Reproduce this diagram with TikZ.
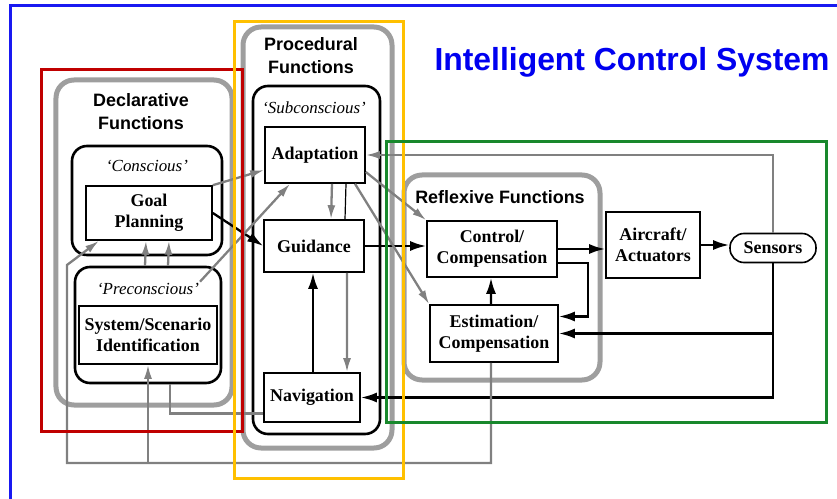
\documentclass[tikz,border=0pt]{standalone}
\usepackage{fontspec}
\setmainfont{Liberation Serif}
\setsansfont{Liberation Sans}
\usetikzlibrary{arrows.meta}

\definecolor{hired}{RGB}{192,0,0}
\definecolor{hiyellow}{RGB}{255,192,0}
\definecolor{higreen}{RGB}{24,136,44}
\definecolor{titleblue}{RGB}{0,0,240}

\tikzset{
  block/.style={draw, line width=1.6bp, fill=white, inner sep=0pt, align=center,
    font=\bfseries\fontsize{18}{21}\selectfont},
  statebox/.style={draw, line width=2.6bp, rounded corners=15bp, inner sep=0pt},
  funcgroup/.style={draw=black!38, line width=5bp, rounded corners=18bp, inner sep=0pt},
  grouptitle/.style={font=\sffamily\bfseries\fontsize{18}{23}\selectfont, align=center},
  statelabel/.style={font=\itshape\fontsize{17}{20}\selectfont},
  flow/.style={-{Latex[length=16bp,width=10bp]}, line width=2.3bp},
  cue/.style={-{Latex[length=14bp,width=8bp]}, line width=2.3bp, draw=black!50},
  link/.style={line width=2.3bp, draw=black!50},
  hilite/.style={line width=3bp}
}

\begin{document}
\begin{tikzpicture}[x=1bp, y=-1bp]
    \useasboundingbox (0,0) rectangle (837,499);

    % Outer border and title
    \draw[titleblue!90, line width=3bp] (10,499) -- (10,6) -- (837,6);
    \node[font=\sffamily\bfseries\fontsize{32}{36}\selectfont, text=titleblue] (ttl) at (632,62) {Intelligent Control System};

    % Gray function groups
    \node[funcgroup, minimum width=176bp, minimum height=325bp] (decl) at (144,242.5) {};
    \node[funcgroup, minimum width=149bp, minimum height=421bp] (proc) at (317.5,237.5) {};
    \node[funcgroup, minimum width=196bp, minimum height=205bp] (refl) at (502,277.5) {};
    \node[grouptitle] (declt) at (141,112) {Declarative\\Functions};
    \node[grouptitle] (proct) at (311,56) {Procedural\\Functions};
    \node[grouptitle] (reflt) at (500,197) {Reflexive Functions};

    % Levels of awareness
    \node[statebox, minimum width=150bp, minimum height=109bp] (consc) at (147,200.5) {};
    \node[statebox, minimum width=146bp, minimum height=116bp] (precon) at (148,325) {};
    \node[statebox, minimum width=127bp, minimum height=348bp] (subcon) at (316.5,260) {};
    \node[statelabel] (conscl) at (147,166) {`Conscious'};
    \node[statelabel] (preconl) at (148,289) {`Preconscious'};
    \node[statelabel] (subconl) at (314,108) {`Subconscious'};

    % Blocks
    \node[block, minimum width=126bp, minimum height=54bp] (goal) at (149,213) {Goal\\Planning};
    \node[block, minimum width=138bp, minimum height=58bp] (sysid) at (148,335) {System/Scenario\\Identification};
    \node[block, minimum width=100bp, minimum height=56bp] (adapt) at (315,155) {Adaptation};
    \node[block, minimum width=100bp, minimum height=52bp] (guid) at (314,246) {Guidance};
    \node[block, minimum width=96bp, minimum height=49bp] (nav) at (312,397.5) {Navigation};
    \node[block, minimum width=130bp, minimum height=56bp] (ctrl) at (492,249) {Control/\\Compensation};
    \node[block, minimum width=128bp, minimum height=57bp] (est) at (494,333.5) {Estimation/\\Compensation};
    \node[block, minimum width=94bp, minimum height=66bp] (acft) at (653,245) {Aircraft/\\Actuators};
    \node[block, minimum width=86bp, minimum height=29bp, rounded corners=14bp] (sens) at (773,248) {Sensors};

    % Feedback loop corners
    \coordinate (loopL) at (67,463);
    \coordinate (loopT) at (67,265);

    % Declarative links
    \draw[cue] (goal.north east) -- ([yshift=-15bp]adapt.west);
    \draw[flow] (goal.east) -- (guid.west);
    \draw[cue] ([xshift=52bp,yshift=-16bp]precon.north) -- ([xshift=-25bp]adapt.south);
    \draw[cue] ([xshift=-3bp]precon.north) -- ([xshift=-3bp]goal.south);
    \draw[cue] ([xshift=20bp]precon.north) -- ([xshift=20bp]goal.south);
    \draw[link] ([xshift=22bp]precon.south) |- ([yshift=-16bp]nav.west);

    % Procedural links
    \draw[cue] ([xshift=17bp]adapt.south) -- ([xshift=17bp]guid.north);
    \draw[line width=1.2bp] ([xshift=31bp]adapt.south) -- ([xshift=31bp]guid.north);
    \draw[cue] ([xshift=33bp]guid.south) -- ([xshift=35bp]nav.north);
    \draw[flow] ([xshift=1bp]nav.north) -- ([xshift=-1bp]guid.south);
    \draw[flow] (guid.east) -- (guid.east -| ctrl.west);
    \draw[cue] ([yshift=-17bp]adapt.east) -- (ctrl.north west);
    \draw[cue] ([xshift=40bp]adapt.south) -- (est.north west);

    % Reflexive loop
    \draw[flow] (ctrl.east) -- (ctrl.east -| acft.west);
    \draw[flow] (acft.east) -- (acft.east -| sens.west);
    \draw[flow] ([yshift=-14bp]ctrl.east) -- ++(30,0) |- ([yshift=17bp]est.east);
    \draw[flow] ([xshift=-3bp]est.north) -- ([xshift=-1bp]ctrl.south);
    \draw[flow] (sens.south) |- (est.east);
    \draw[flow] (sens.south) |- (nav.east);
    \draw[cue] (sens.north) |- (adapt.east);

    % Long feedback along the bottom
    \draw[cue] ([xshift=-3bp]est.south) |- (loopL) -- (loopT) -- ([xshift=-50bp]goal.south);
    \draw[cue] (sysid.south |- loopL) -- (sysid.south);

    % Highlight frames
    \draw[hilite, hired] (41,70) rectangle (242,431);
    \draw[hilite, hiyellow] (234,22) rectangle (403,478);
    \draw[hilite, higreen] (386,142) rectangle (826,422);

\end{tikzpicture}
\end{document}
